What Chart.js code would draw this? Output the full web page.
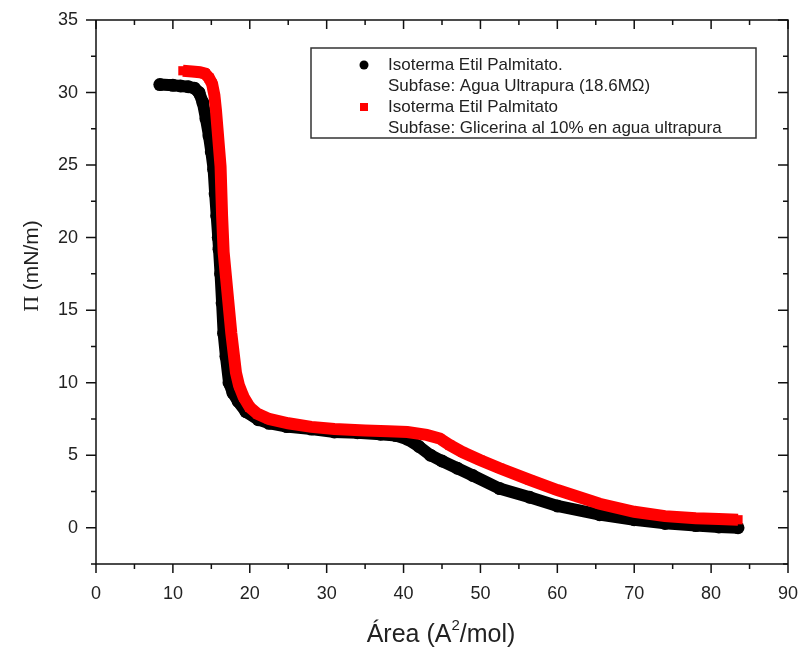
<!DOCTYPE html>
<html>
<head>
<meta charset="utf-8">
<script src="https://cdn.jsdelivr.net/npm/chart.js@4.4.0/dist/chart.umd.min.js"></script>
<style>
html,body{margin:0;padding:0;background:#fff;}
#wrap{width:800px;height:651px;position:relative;}
</style>
</head>
<body>
<div id="wrap"><canvas id="c" width="800" height="651"></canvas></div>
<script>
// Black series: Subfase agua ultrapura
const blackArea = [8.3,10,11,12,12.8,13.4,13.9,14.3,14.7,15.0,15.3,15.5,15.7,15.9,16.0,16.2,16.4,16.6,16.9,17.3,17.8,18.5,19.5,21.1,22.5,24.8,28,31,34,37,39,40.5,42,43.5,45,47,49,52.5,56.4,60,65.5,70,74,78,81,83.5];
const blackPi   = [30.55,30.5,30.45,30.4,30.3,30.0,29.3,28.2,27.0,25.9,24.7,23,21.5,20,19.2,17.5,15.5,13.4,11.8,10.0,9.3,8.7,8.0,7.45,7.2,6.97,6.8,6.6,6.55,6.45,6.35,6.1,5.6,5.0,4.6,4.1,3.6,2.7,2.1,1.5,0.9,0.55,0.3,0.15,0.05,0.0];
// Red series: Subfase glicerina 10%
const redArea = [11.3,12.5,13.5,14.2,14.7,15.1,15.4,15.6,15.8,16.0,16.2,16.4,16.6,17.1,17.6,18.2,18.6,19.2,20,21,22.5,25,28,31,35,38,40.5,43,44.7,46,47.7,50,52.5,56.4,60,65.5,70,74,78,81,83.5];
const redPi   = [31.5,31.45,31.4,31.3,31.0,30.6,29.8,28.8,27.5,26.2,24.9,21.5,19.0,16.2,13.4,10.7,9.8,9.0,8.3,7.85,7.5,7.2,6.95,6.8,6.7,6.65,6.6,6.4,6.15,5.7,5.2,4.65,4.1,3.3,2.6,1.65,1.1,0.8,0.65,0.6,0.55];
const xTicks = [0,10,20,30,40,50,60,70,80,90];
const yTicks = [0,5,10,15,20,25,30,35];
const legendLines = ["Isoterma Etil Palmitato.","Subfase: Agua Ultrapura (18.6M\u03A9)","Isoterma Etil Palmitato","Subfase: Glicerina al 10% en agua ultrapura"];
const xTitle = "\u00C1rea (A";
const yTitleSym = "\u03A0";
const yTitleRest = " (mN/m)";

const toPts = (xs, ys) => xs.map((x, i) => ({x: x, y: ys[i]}));
const FONT = "'Liberation Sans', Arial, sans-serif";
const SERIF = "'Liberation Serif', 'DejaVu Serif', serif";
const TXT = '#222';

const framePlugin = {
  id: 'frame',
  afterDraw(chart) {
    const ctx = chart.ctx;
    const a = chart.chartArea;
    const xs = chart.scales.x, ys = chart.scales.y;
    ctx.save();
    ctx.strokeStyle = '#111';
    ctx.lineWidth = 1.5;
    ctx.beginPath();
    ctx.moveTo(a.left, a.top); ctx.lineTo(a.right, a.top); ctx.lineTo(a.right, a.bottom);
    ctx.stroke();
    ctx.beginPath();
    ctx.moveTo(a.left, a.top); ctx.lineTo(a.left, a.bottom); ctx.lineTo(a.right, a.bottom);
    ctx.stroke();
    for (let v = 0; v <= 90; v += 5) {
      const px = xs.getPixelForValue(v);
      const major = v % 10 === 0;
      const L = major ? 9 : 5;
      ctx.beginPath();
      ctx.moveTo(px, a.bottom); ctx.lineTo(px, a.bottom + L);
      ctx.moveTo(px, a.top); ctx.lineTo(px, a.top + L);
      ctx.stroke();
    }
    for (let v = -2.5; v <= 35.001; v += 2.5) {
      const py = ys.getPixelForValue(v);
      const major = Math.abs(v % 5) < 1e-6;
      const L = major ? 10 : 5;
      ctx.beginPath();
      ctx.moveTo(a.left, py); ctx.lineTo(a.left - L, py);
      ctx.moveTo(a.right, py); ctx.lineTo(a.right - L, py);
      ctx.stroke();
    }
    // x title
    ctx.fillStyle = TXT;
    ctx.textBaseline = 'alphabetic';
    const cx = 441;
    ctx.font = "25px " + FONT;
    const w1 = ctx.measureText(xTitle).width;
    ctx.font = "15px " + FONT;
    const w2 = ctx.measureText("2").width;
    ctx.font = "25px " + FONT;
    const w3 = ctx.measureText("/mol)").width;
    const sx = cx - (w1 + w2 + w3) / 2;
    const by = 642;
    ctx.textAlign = 'left';
    ctx.fillText(xTitle, sx, by);
    ctx.font = "15px " + FONT;
    ctx.fillText("2", sx + w1, by - 12);
    ctx.font = "25px " + FONT;
    ctx.fillText("/mol)", sx + w1 + w2, by);
    // y title
    ctx.save();
    ctx.translate(38, 266);
    ctx.rotate(-Math.PI / 2);
    ctx.textAlign = 'left';
    ctx.font = "22px " + SERIF;
    const ws = ctx.measureText(yTitleSym).width;
    ctx.font = "21px " + FONT;
    const wr = ctx.measureText(yTitleRest).width;
    const start = -(ws + wr) / 2;
    ctx.font = "22px " + SERIF;
    ctx.fillText(yTitleSym, start, 0);
    ctx.font = "21px " + FONT;
    ctx.fillText(yTitleRest, start + ws, 0);
    ctx.restore();
    // legend
    const bx = 311, bty = 48, bw = 445, bh = 90;
    ctx.fillStyle = '#fff';
    ctx.fillRect(bx, bty, bw, bh);
    ctx.lineWidth = 1.5;
    ctx.strokeStyle = '#333';
    ctx.strokeRect(bx, bty, bw, bh);
    ctx.fillStyle = TXT;
    ctx.font = "17px " + FONT;
    ctx.textAlign = 'left';
    ctx.textBaseline = 'middle';
    const rows = [65, 86, 107, 128];
    legendLines.forEach((t, i) => ctx.fillText(t, 388, rows[i]));
    ctx.fillStyle = '#000';
    ctx.beginPath(); ctx.arc(364, rows[0], 4.5, 0, Math.PI * 2); ctx.fill();
    ctx.fillStyle = '#ff0000';
    ctx.fillRect(360, rows[2] - 4, 8, 8);
    ctx.restore();
  }
};

new Chart(document.getElementById('c'), {
  type: 'scatter',
  data: {
    datasets: [
      {
        label: 'Glicerina',
        data: toPts(redArea, redPi),
        showLine: true,
        borderColor: '#ff0000',
        backgroundColor: '#ff0000',
        borderWidth: 12,
        pointStyle: 'rect',
        pointRadius: 6.5,
        pointBorderWidth: 0,
        tension: 0,
        order: 0
      },
      {
        label: 'Agua',
        data: toPts(blackArea, blackPi),
        showLine: true,
        borderColor: '#000',
        backgroundColor: '#000',
        borderWidth: 12,
        pointStyle: 'circle',
        pointRadius: 6.5,
        pointBorderWidth: 0,
        tension: 0,
        order: 1
      }
    ]
  },
  options: {
    responsive: false,
    animation: false,
    layout: { padding: { left: 0, right: 12, top: 20, bottom: 0 } },
    plugins: { legend: { display: false }, tooltip: { enabled: false } },
    scales: {
      x: {
        type: 'linear', min: 0, max: 90,
        afterBuildTicks: (s) => { s.ticks = xTicks.map(v => ({value: v})); },
        grid: { display: false, drawTicks: false },
        border: { display: false },
        ticks: { padding: 19, color: TXT, font: { size: 18, family: FONT }, maxRotation: 0 },
        afterFit: (s) => { s.height = 87; s.paddingLeft = 0; s.paddingRight = 0; }
      },
      y: {
        type: 'linear', min: -2.5, max: 35,
        afterBuildTicks: (s) => { s.ticks = yTicks.map(v => ({value: v})); },
        grid: { display: false, drawTicks: false },
        border: { display: false },
        ticks: { padding: 18, color: TXT, font: { size: 18, family: FONT } },
        afterFit: (s) => { s.width = 96; s.paddingTop = 0; s.paddingBottom = 0; }
      }
    }
  },
  plugins: [framePlugin]
});
</script>
</body>
</html>
